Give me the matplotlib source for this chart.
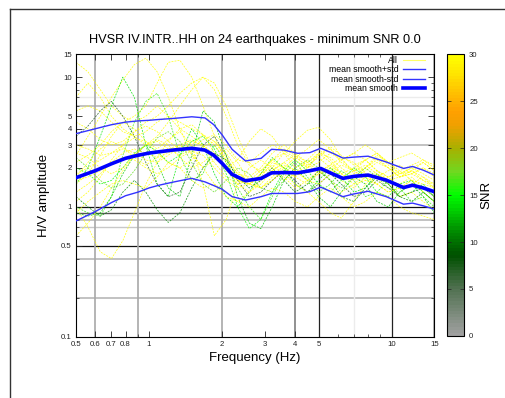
import numpy as np
import matplotlib
matplotlib.use("Agg")
import matplotlib.pyplot as plt
from matplotlib.colors import LinearSegmentedColormap, Normalize
from matplotlib.lines import Line2D

plt.rcParams['font.family'] = ['Liberation Sans', 'DejaVu Sans']

# frequency nodes of the single-event curves (Hz)
freq = [0.5, 0.56, 0.63, 0.7, 0.78, 0.87, 0.97, 1.08, 1.2, 1.34, 1.5, 1.67, 1.86, 2.08, 2.32, 2.59,
        2.89, 3.22, 3.6, 4.0, 4.5, 5.0, 5.6, 6.2, 7.0, 7.8, 8.7, 9.7, 10.8, 12.1, 13.5, 15.0]

# H/V of each earthquake
ev_a = [13, 11, 8, 6, 5, 4.5, 5, 6, 5, 4, 3.5, 3, 2.5, 2.0, 1.6, 1.5, 1.7, 2.2, 2.0, 1.8, 2.1, 2.4, 2.0, 1.7, 1.9, 2.1, 1.8, 1.6, 1.5, 1.7, 1.4, 1.3]
ev_b = [7, 9, 7, 5, 4, 3.5, 3, 3.5, 4.5, 6, 8, 10, 9, 6, 3.5, 2.2, 1.8, 2.0, 2.6, 2.3, 2.0, 2.5, 2.8, 2.2, 1.9, 2.3, 2.6, 2.1, 1.8, 2.0, 2.2, 1.9]
ev_c = [2.5, 3.5, 5, 7, 9.5, 12.5, 14, 11, 7, 4, 2.5, 2.0, 2.3, 2.8, 2.2, 1.6, 1.4, 1.6, 1.9, 1.7, 1.5, 1.8, 2.0, 1.6, 1.4, 1.7, 1.5, 1.3, 1.4, 1.6, 1.3, 1.1]
ev_d = [1.5, 1.8, 2.5, 3.5, 4.5, 5, 6, 9, 13, 13.5, 10, 6, 3.5, 2.2, 1.6, 1.5, 1.8, 2.3, 2.0, 1.7, 2.0, 2.6, 2.2, 1.8, 2.0, 2.3, 1.9, 1.6, 1.7, 1.9, 1.6, 1.4]
ev_e = [1.5, 2.0, 3.5, 6, 10, 7, 3, 1.5, 1.2, 2.5, 4, 3, 1.8, 1.2, 1.0, 1.3, 1.8, 2.4, 2.0, 1.5, 1.3, 1.6, 2.0, 1.7, 1.3, 1.4, 1.8, 1.5, 1.2, 1.3, 1.5, 1.2]
ev_f = [1.0, 0.9, 0.85, 1.2, 2.5, 4.5, 6.5, 7.5, 5, 2.5, 1.6, 1.8, 3.0, 2.2, 1.4, 1.0, 0.8, 1.2, 1.8, 2.2, 1.7, 1.3, 1.5, 1.9, 1.6, 1.2, 1.3, 1.6, 1.4, 1.1, 1.2, 1.0]
ev_g = [3.5, 4.2, 5.5, 6.5, 5, 3.5, 2.2, 1.5, 1.2, 1.3, 2.0, 3.0, 3.5, 2.5, 1.6, 1.2, 1.3, 1.6, 1.9, 1.6, 1.3, 1.5, 1.8, 1.5, 1.2, 1.3, 1.6, 1.4, 1.2, 1.3, 1.4, 1.2]
ev_h = [0.9, 0.85, 0.9, 1.2, 1.8, 2.5, 3.0, 2.2, 1.4, 1.2, 2.5, 5.5, 4.5, 2.5, 1.2, 0.75, 0.68, 1.0, 1.6, 2.0, 1.6, 1.2, 1.0, 1.3, 1.7, 1.5, 1.1, 1.0, 1.3, 1.5, 1.2, 0.9]
ev_i = [1.0, 0.7, 0.45, 0.4, 0.55, 0.9, 1.5, 2.2, 2.8, 3.0, 2.6, 2.0, 1.5, 1.2, 1.1, 1.3, 1.6, 1.9, 1.7, 1.4, 1.6, 1.9, 1.6, 1.3, 1.5, 1.8, 1.5, 1.3, 1.4, 1.6, 1.3, 1.1]
ev_j = [2.2, 2.5, 3.0, 3.8, 4.5, 4.0, 3.2, 2.8, 3.3, 3.8, 3.0, 1.5, 0.6, 0.8, 1.5, 2.0, 2.3, 2.0, 1.6, 1.8, 2.3, 2.8, 2.3, 1.8, 1.6, 2.0, 2.4, 2.0, 1.7, 1.9, 1.7, 1.5]
ev_k = [0.6, 0.75, 1.0, 1.4, 1.9, 2.5, 3.0, 3.3, 3.0, 2.4, 2.0, 2.2, 2.6, 2.0, 1.5, 1.3, 1.5, 1.9, 2.2, 1.9, 1.6, 1.8, 2.1, 1.8, 1.5, 1.6, 1.9, 1.7, 1.4, 1.5, 1.7, 1.4]
ev_l = [5.5, 6, 5.5, 4.5, 3.8, 3.5, 3.8, 4.5, 5, 4.5, 4, 3.6, 3.0, 2.3, 1.8, 1.7, 2.0, 2.6, 3.0, 2.6, 2.2, 2.5, 2.9, 2.5, 2.1, 2.3, 2.6, 2.2, 1.9, 2.1, 2.3, 2.0]
ev_m = [3.0, 2.8, 2.5, 2.6, 3.0, 3.8, 4.5, 5, 6, 7.5, 9, 10, 8, 5, 3, 2.1, 1.9, 2.3, 2.8, 2.5, 2.0, 2.2, 2.6, 2.3, 1.9, 2.0, 2.3, 2.0, 1.7, 1.8, 2.0, 1.8]
ev_n = [1.8, 2.0, 2.3, 2.6, 2.8, 2.6, 2.3, 2.2, 2.5, 2.9, 3.2, 3.0, 2.5, 2.0, 2.3, 3.2, 4.0, 3.5, 2.6, 2.0, 2.2, 2.6, 2.4, 2.0, 1.7, 1.9, 2.2, 2.0, 1.7, 1.8, 2.0, 1.7]
ev_o = [1.3, 1.5, 1.8, 2.2, 2.6, 2.8, 2.6, 2.4, 2.6, 3.0, 3.3, 2.9, 2.2, 1.7, 1.5, 1.6, 1.9, 2.3, 2.6, 3.2, 3.9, 4.1, 3.3, 2.4, 1.8, 2.0, 2.5, 2.2, 1.8, 1.9, 2.2, 1.9]
ev_p = [2.0, 1.8, 1.5, 1.6, 2.0, 2.6, 3.0, 2.7, 2.2, 2.5, 3.2, 3.5, 2.8, 1.8, 1.0, 0.68, 0.8, 1.3, 1.9, 2.3, 1.9, 1.5, 1.3, 1.6, 2.0, 1.7, 1.3, 1.2, 1.5, 1.6, 1.3, 1.1]
ev_q = [1.6, 1.7, 1.9, 2.2, 2.4, 2.3, 2.0, 1.8, 2.0, 2.4, 2.7, 2.5, 2.0, 1.6, 1.4, 1.5, 1.8, 2.1, 1.8, 1.5, 1.3, 1.1, 0.9, 0.82, 1.1, 1.5, 1.8, 1.5, 1.2, 1.3, 1.1, 0.95]
ev_r = [2.6, 2.4, 2.0, 1.8, 2.0, 2.5, 3.0, 3.2, 2.8, 2.5, 2.8, 3.3, 3.6, 3.0, 2.3, 2.2, 2.6, 3.0, 2.7, 2.4, 2.8, 3.3, 2.8, 2.3, 2.6, 3.0, 2.6, 2.2, 2.4, 2.6, 2.3, 2.1]
ev_s = [1.2, 1.0, 0.85, 0.95, 1.3, 1.6, 1.3, 0.95, 0.76, 0.9, 1.4, 2.0, 2.6, 2.3, 1.7, 1.4, 1.6, 2.0, 1.6, 1.3, 1.5, 1.9, 1.6, 1.2, 1.1, 1.4, 1.7, 1.5, 1.2, 1.1, 1.3, 1.1]
ev_t = [4.5, 4.0, 3.3, 3.0, 3.2, 3.8, 4.2, 3.8, 3.2, 2.8, 3.0, 3.6, 3.2, 2.4, 1.8, 1.6, 1.7, 1.9, 2.2, 2.5, 2.2, 1.9, 2.1, 2.4, 2.2, 1.8, 1.7, 1.9, 2.1, 1.8, 1.6, 1.5]
ev_u = [0.9, 1.1, 1.3, 1.5, 1.6, 1.5, 1.4, 1.7, 2.2, 2.0, 1.6, 1.4, 1.5, 1.3, 1.1, 1.0, 1.2, 1.4, 1.3, 1.1, 1.0, 1.2, 1.4, 1.2, 1.0, 1.1, 1.3, 1.2, 1.0, 0.9, 0.85, 0.8]
ev_v = [1.7, 2.2, 2.8, 3.2, 2.9, 2.4, 2.1, 2.4, 3.2, 4.0, 4.3, 3.6, 2.6, 1.9, 1.6, 1.5, 1.4, 1.6, 2.0, 2.4, 2.1, 1.8, 1.9, 2.3, 2.6, 2.3, 1.9, 1.7, 1.8, 2.0, 1.8, 1.6]
ev_w = [2.4, 2.0, 1.6, 1.4, 1.5, 1.9, 2.6, 3.4, 3.8, 3.2, 2.2, 1.5, 1.3, 1.6, 2.0, 1.8, 1.4, 1.3, 1.6, 2.0, 2.3, 2.0, 1.6, 1.4, 1.7, 2.0, 1.7, 1.4, 1.3, 1.5, 1.4, 1.2]
ev_x = [1.1, 1.3, 1.7, 2.3, 3.0, 3.4, 3.2, 2.6, 2.2, 2.0, 2.3, 2.9, 3.2, 2.6, 1.9, 1.5, 1.4, 1.7, 2.1, 1.9, 1.6, 1.5, 1.8, 2.1, 1.9, 1.6, 1.5, 1.7, 1.9, 1.6, 1.5, 1.4]

events = [ev_a, ev_b, ev_c, ev_d, ev_e, ev_f, ev_g, ev_h, ev_i, ev_j, ev_k, ev_l,
          ev_m, ev_n, ev_o, ev_p, ev_q, ev_r, ev_s, ev_t, ev_u, ev_v, ev_w, ev_x]
snr = [35, 40, 32, 38, 14, 16, 7, 13, 30, 34, 31, 45, 33, 36, 30, 15, 42, 30, 11, 37, 50, 33, 17, 39]

# smoothed mean and +/- std
freq_s = [0.5, 0.6, 0.7, 0.8, 0.9, 1.0, 1.1, 1.25, 1.5, 1.7, 1.85, 2.0, 2.2, 2.5, 2.9, 3.2, 3.6, 4.1,
          4.6, 5.1, 5.7, 6.3, 7.0, 8.0, 9.5, 11.2, 12.2, 13.5, 15]
mean_s = [1.68, 1.9, 2.15, 2.37, 2.5, 2.6, 2.66, 2.74, 2.83, 2.74, 2.5, 2.17, 1.78, 1.59, 1.66, 1.83, 1.84,
          1.83, 1.9, 1.98, 1.8, 1.66, 1.72, 1.76, 1.61, 1.41, 1.47, 1.4, 1.31]
plus_s = [3.67, 4.0, 4.3, 4.5, 4.6, 4.65, 4.72, 4.8, 4.95, 4.85, 4.3, 3.6, 2.78, 2.26, 2.37, 2.78, 2.74,
          2.59, 2.62, 2.83, 2.6, 2.38, 2.42, 2.46, 2.22, 1.98, 2.05, 1.92, 1.76]
minus_s = [0.78, 0.92, 1.08, 1.22, 1.3, 1.4, 1.47, 1.55, 1.66, 1.56, 1.46, 1.37, 1.2, 1.13, 1.2, 1.27, 1.27,
           1.27, 1.31, 1.42, 1.3, 1.2, 1.26, 1.32, 1.2, 1.05, 1.07, 1.02, 0.96]

xticks = [0.5, 0.6, 0.7, 0.8, 1, 2, 3, 4, 5, 10, 15]
yticks = [0.1, 0.5, 1, 2, 3, 4, 5, 10, 15]

snr_cmap = LinearSegmentedColormap.from_list("snr", [
    (0.0, "#a0a0a0"), (5 / 30, "#4f704f"), (8.5 / 30, "#005000"), (11 / 30, "#008800"),
    (15 / 30, "#00ff00"), (17.5 / 30, "#70d820"), (20 / 30, "#a8b000"), (22.5 / 30, "#f0a000"),
    (24 / 30, "#ffa000"), (26 / 30, "#ffc000"), (28 / 30, "#ffe400"), (1.0, "#ffff00")], N=90)
norm = Normalize(0, 30)

fig = plt.figure(figsize=(5.05, 3.98), dpi=100)
ax = fig.add_axes([0.1505, 0.154, 0.7095, 0.7096])
cax = fig.add_axes([0.8845, 0.156, 0.0349, 0.7076])

# frame of the page
fig.add_artist(Line2D([10 / 505, 10 / 505], [0, 1 - 9 / 398], color="#333333", lw=1))
fig.add_artist(Line2D([10 / 505, 1], [1 - 9 / 398, 1 - 9 / 398], color="#333333", lw=1))

ax.set_xscale("log")
ax.set_yscale("log")
ax.set_xlim(0.5, 15)
ax.set_ylim(0.1, 15)

# reference lines
for v in [0.2, 0.4, 0.8, 3, 6]:
    ax.axhline(v, color="#bdbdbd", lw=1.3, zorder=1)
for v in [0.7]:
    ax.axhline(v, color="#c8c8c8", lw=1.0, zorder=1)
for v in [0.3, 7]:
    ax.axhline(v, color="#ececec", lw=1.0, zorder=1)
for v in [0.9]:
    ax.axhline(v, color="#555555", lw=1.0, zorder=1)
for v in [0.5, 1]:
    ax.axhline(v, color="#111111", lw=0.9, zorder=1)
for v in [0.6, 0.9, 2, 15]:
    ax.axvline(v, color="#a8a8a8", lw=1.2, zorder=1)
ax.axvline(4, color="#888888", lw=1.3, zorder=1)
ax.axvline(7, color="#ececec", lw=1.0, zorder=1)
for v in [5, 10]:
    ax.axvline(v, color="#222222", lw=0.9, zorder=1)

for vals, s in zip(events, snr):
    ax.plot(freq, vals, color=snr_cmap(norm(min(s, 30))), lw=0.55, dashes=(2.5, 1.5),
            alpha=0.85, zorder=2)

ax.plot(freq_s, plus_s, color="#3333ff", lw=1.0, zorder=3)
ax.plot(freq_s, minus_s, color="#3333ff", lw=1.0, zorder=3)
ax.plot(freq_s, mean_s, color="#0000ff", lw=2.6, zorder=4)

ax.set_xticks(xticks)
ax.set_xticklabels([f"{t:g}" for t in xticks])
ax.set_xticks([0.9, 6, 7, 8, 9], minor=True)
ax.set_xticklabels([], minor=True)
ax.set_yticks(yticks)
ax.set_yticklabels([f"{t:g}" for t in yticks])
ax.set_yticks([0.2, 0.3, 0.4, 0.6, 0.7, 0.8, 0.9, 6, 7, 8, 9], minor=True)
ax.set_yticklabels([], minor=True)
ax.tick_params(which="both", direction="in", top=True, right=True, labelsize=5.6, colors="#222222", pad=3)
ax.tick_params(which="major", length=4, width=0.6)
ax.tick_params(which="minor", length=2, width=0.5)
for sp in ax.spines.values():
    sp.set_linewidth(0.8)

ax.set_xlabel("Frequency (Hz)", fontsize=9.5, labelpad=3)
ax.set_ylabel("H/V amplitude", fontsize=9.5, labelpad=8)
ax.set_title("HVSR IV.INTR..HH on 24 earthquakes - minimum SNR 0.0", fontsize=9.2, pad=8)

handles = [Line2D([], [], color="#ffff66", lw=0.8),
           Line2D([], [], color="#3333ff", lw=1.0),
           Line2D([], [], color="#3333ff", lw=1.0),
           Line2D([], [], color="#0000ff", lw=2.6)]
labels = ["All", "mean smooth+std", "mean smooth-std", "mean smooth"]
ax.legend(handles, labels, loc="upper right", bbox_to_anchor=(0.975, 0.995), frameon=False,
          fontsize=6.3, markerfirst=False, handlelength=2.6, handletextpad=0.5,
          labelspacing=0.05, borderpad=0, borderaxespad=0)

sm = plt.cm.ScalarMappable(cmap=snr_cmap, norm=norm)
cb = fig.colorbar(sm, cax=cax)
cb.set_ticks([0, 5, 10, 15, 20, 25, 30])
cb.ax.tick_params(direction="in", labelsize=5.6, length=3, width=0.5, colors="#222222", left=True)
cb.outline.set_linewidth(0.8)
cb.set_label("SNR", fontsize=9.5, labelpad=2)

fig.savefig("out.png", dpi=100)
